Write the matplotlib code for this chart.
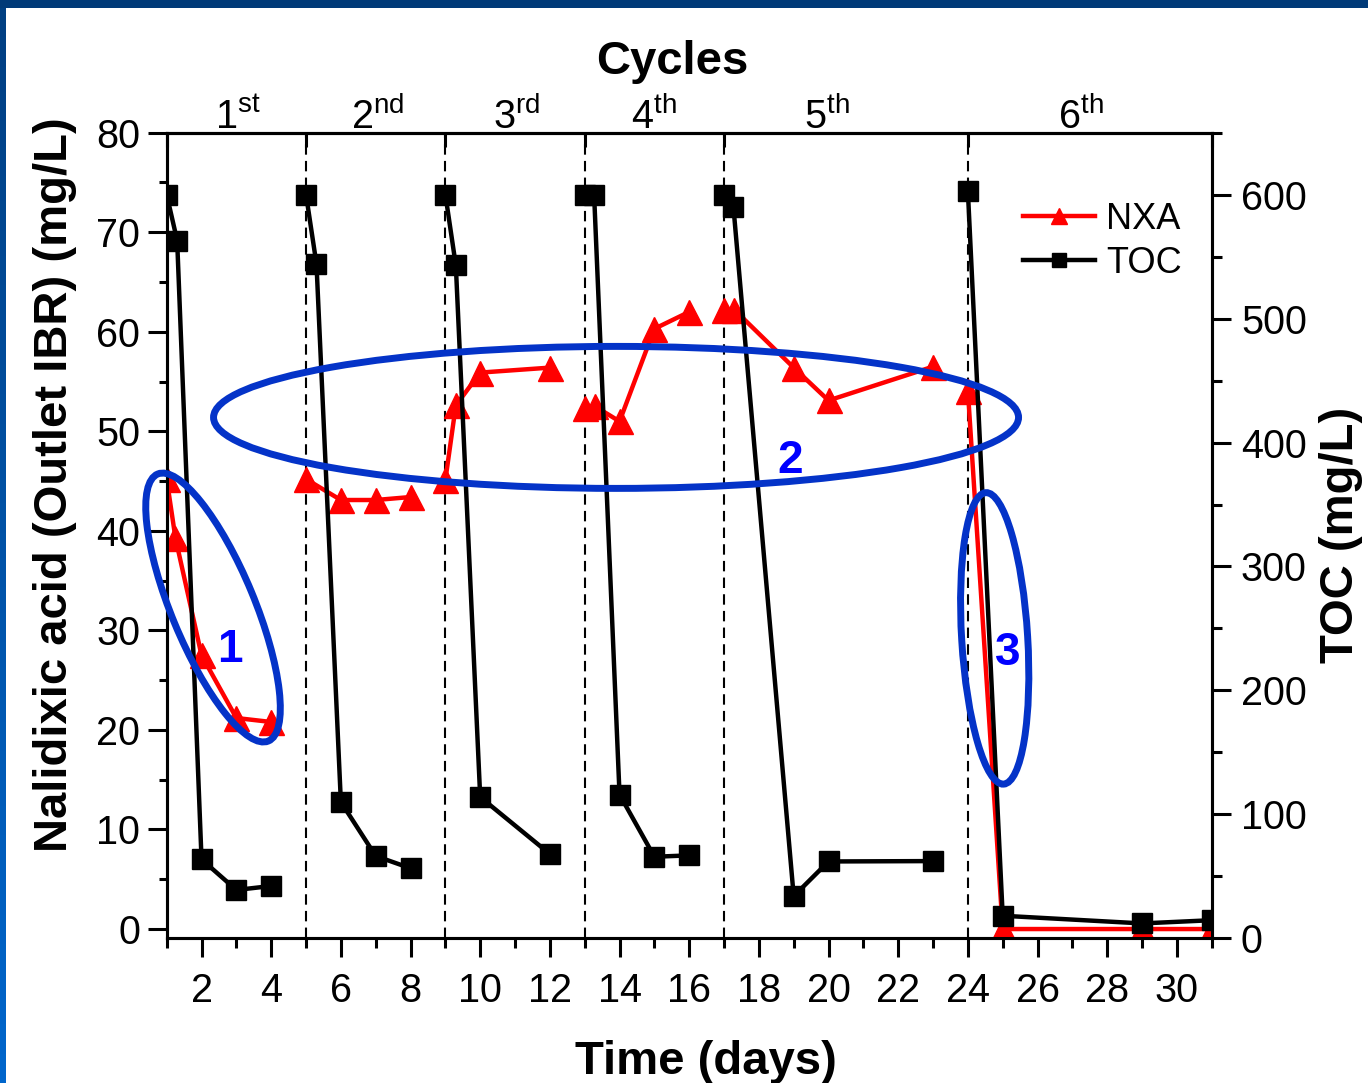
import matplotlib
matplotlib.use('Agg')
import matplotlib.pyplot as plt
from matplotlib.patches import Ellipse, Rectangle
from matplotlib import transforms
from matplotlib.ticker import NullFormatter
from matplotlib.colors import LinearSegmentedColormap
import numpy as np

plt.rcParams['font.family'] = ['Liberation Sans', 'DejaVu Sans']
plt.rcParams['mathtext.fontset'] = 'custom'
plt.rcParams['mathtext.rm'] = 'Liberation Sans'
plt.rcParams['mathtext.it'] = 'Liberation Sans:italic'
plt.rcParams['mathtext.bf'] = 'Liberation Sans:bold'

# ---------------- data ----------------
days_nxa = [1, 1.25, 2, 3, 4, 5, 6, 7, 8, 9, 9.3, 10, 12, 13, 13.3, 14, 15, 16,
            17, 17.3, 19, 20, 23, 24, 25, 29, 31]
nxa = [45.2, 39.3, 27.5, 21.2, 20.8, 45.2, 43.1, 43.1, 43.4, 45.1, 52.6, 55.9, 56.4,
       52.3, 52.5, 51.0, 60.3, 62.0, 62.2, 62.2, 56.4, 53.1, 56.5, 54.1, 0, 0, 0]
cycle_nxa = [1, 1, 1, 1, 1, 2, 2, 2, 2, 3, 3, 3, 3, 4, 4, 4, 4, 4, 5, 5, 5, 5, 5,
             6, 6, 6, 6]

days_toc = [1, 1.3, 2, 3, 4, 5, 5.3, 6, 7, 8, 9, 9.3, 10, 12, 13, 13.27, 14, 15, 16,
            17, 17.27, 19, 20, 23, 24, 25, 29, 31]
toc = [600, 563, 63.7, 39, 42.2, 600, 544, 110, 66.4, 56.5, 600, 543, 114, 68,
       600, 600, 116, 65.8, 66.9, 600, 590, 34, 62, 62.3, 603, 18.2, 12, 14.6]
cycle_toc = [1, 1, 1, 1, 1, 2, 2, 2, 2, 2, 3, 3, 3, 3, 4, 4, 4, 4, 4, 5, 5, 5, 5, 5,
             6, 6, 6, 6]

cycle_bounds = [1, 5, 9, 13, 17, 24, 31]
cycle_label_pos = [3.05, 7.05, 11.05, 15.0, 19.95, 27.25]
cycle_labels = [r'1$^{\mathrm{st}}$', r'2$^{\mathrm{nd}}$', r'3$^{\mathrm{rd}}$',
                r'4$^{\mathrm{th}}$', r'5$^{\mathrm{th}}$', r'6$^{\mathrm{th}}$']

# ---------------- figure ----------------
W, H = 1368, 1083
fig = plt.figure(figsize=(W / 100, H / 100), dpi=100)
fig.patch.set_facecolor('white')

# frame strips
fig.add_artist(Rectangle((0, 1 - 8 / H), 1, 8 / H, transform=fig.transFigure,
                         facecolor='#003a78', edgecolor='none', zorder=0))
sax = fig.add_axes([0, 0, 6 / W, 1 - 8 / H])
grad = np.linspace(0, 1, 256).reshape(-1, 1)
cm = LinearSegmentedColormap.from_list('b', ['#003f82', '#0066cc'])
sax.imshow(grad, aspect='auto', cmap=cm, extent=[0, 1, 0, 1], origin='upper')
sax.axis('off')

L, R, T, B = 166.7, 1211.7, 132.7, 938.3
ax = fig.add_axes([L / W, 1 - B / H, (R - L) / W, (B - T) / H])
ax2 = ax.twinx()

lw_sp = 2.2
for a in (ax, ax2):
    for s in a.spines.values():
        s.set_linewidth(lw_sp)

ax.set_xlim(1, 31)
ax.set_ylim(-0.93, 80)
ax2.set_ylim(0, 650)

ax.set_xticks(np.arange(2, 31, 2))
ax.set_xticks(np.arange(1, 32, 2), minor=True)
ax.set_yticks(np.arange(0, 81, 10))
ax.set_yticks(np.arange(5, 80, 10), minor=True)
ax2.set_yticks(np.arange(0, 601, 100))
ax2.set_yticks(np.arange(50, 651, 100), minor=True)

ax.tick_params(axis='x', which='major', direction='out', length=14, width=lw_sp,
               labelsize=28.5, pad=10)
ax.tick_params(axis='x', which='minor', direction='out', length=7, width=lw_sp)
ax.tick_params(axis='y', which='major', direction='out', length=14, width=lw_sp,
               labelsize=28.5, pad=5)
ax.tick_params(axis='y', which='minor', direction='out', length=6, width=lw_sp)
ax2.tick_params(axis='y', which='major', direction='out', length=14, width=lw_sp,
                labelsize=28.5, pad=7)
ax2.tick_params(axis='y', which='minor', direction='out', length=7, width=lw_sp)

# cycle boundaries
for b in cycle_bounds[1:-1]:
    ax.axvline(b, color='black', lw=1.5, ls=(0, (5, 3)), zorder=1)

# NXA
days_nxa_a = np.array(days_nxa)
nxa_a = np.array(nxa)
cyc_n = np.array(cycle_nxa)
for c in np.unique(cyc_n):
    m = cyc_n == c
    ln_nxa, = ax.plot(days_nxa_a[m], nxa_a[m], color='#ff0000', lw=3.2, marker='^',
                      ms=18, mec='#ff0000', zorder=3)

# TOC
days_toc_a = np.array(days_toc)
toc_a = np.array(toc)
cyc_t = np.array(cycle_toc)
for c in np.unique(cyc_t):
    m = cyc_t == c
    ln_toc, = ax2.plot(days_toc_a[m], toc_a[m], color='black', lw=3.2, marker='s',
                       ms=15, mec='black', zorder=3)

# top axis with cycles
secax = ax.secondary_xaxis('top')
secax.spines['top'].set_linewidth(lw_sp)
secax.set_xticks(cycle_bounds)
secax.xaxis.set_major_formatter(NullFormatter())
secax.set_xticks(cycle_label_pos, labels=cycle_labels, minor=True)
secax.tick_params(axis='x', which='major', direction='in', length=10, width=lw_sp)
secax.tick_params(axis='x', which='minor', length=0, pad=-3, labelsize=28.5)

# axis labels
fig.text(672 / W, 1 - 74 / H, 'Cycles', fontsize=34, fontweight='bold',
         ha='center', va='baseline')
fig.text(706 / W, 1 - 1074 / H, 'Time (days)', fontsize=34, fontweight='bold',
         ha='center', va='baseline')
fig.text(55 / W, 1 - 485 / H, 'Nalidixic acid (Outlet IBR) (mg/L)', fontsize=34,
         fontweight='bold', rotation=90, ha='center', va='center')
fig.text(1341 / W, 1 - 535 / H, 'TOC (mg/L)', fontsize=34, fontweight='bold',
         rotation=90, ha='center', va='center')

# legend
ax2.legend([ln_nxa, ln_toc], ['NXA', 'TOC'], loc='upper left',
           bbox_to_anchor=(1023 / W, 1 - 202 / H), bbox_transform=fig.transFigure,
           frameon=False, fontsize=26, handlelength=2.0, handletextpad=0.3,
           borderpad=0, borderaxespad=0, labelspacing=0.25, markerscale=0.65)

# annotation ellipses (size in pixels, centre in left-axis data coords)
ell_color = '#0433c8'
ellipses = [((2.33, 32.3), 83, 289, 22.5),
            ((13.9, 51.4), 805, 142, 0.0),
            ((24.77, 29.2), 66, 292, 3.5)]
for (cx, cy), w, h, ang in ellipses:
    tr = fig.dpi_scale_trans + transforms.ScaledTranslation(cx, cy, ax.transData)
    e = Ellipse((0, 0), w / 100, h / 100, angle=ang, transform=tr, fill=False,
                edgecolor=ell_color, lw=5, zorder=20, clip_on=False)
    ax2.add_artist(e)

for (tx, ty), s in [((2.82, 28.0), '1'), ((18.9, 47.0), '2'), ((25.15, 27.7), '3')]:
    ax2.text(tx, ty, s, transform=ax.transData, color='#0000ff', fontsize=33,
             fontweight='bold', ha='center', va='center', zorder=21)

fig.savefig('out.png', dpi=100)
